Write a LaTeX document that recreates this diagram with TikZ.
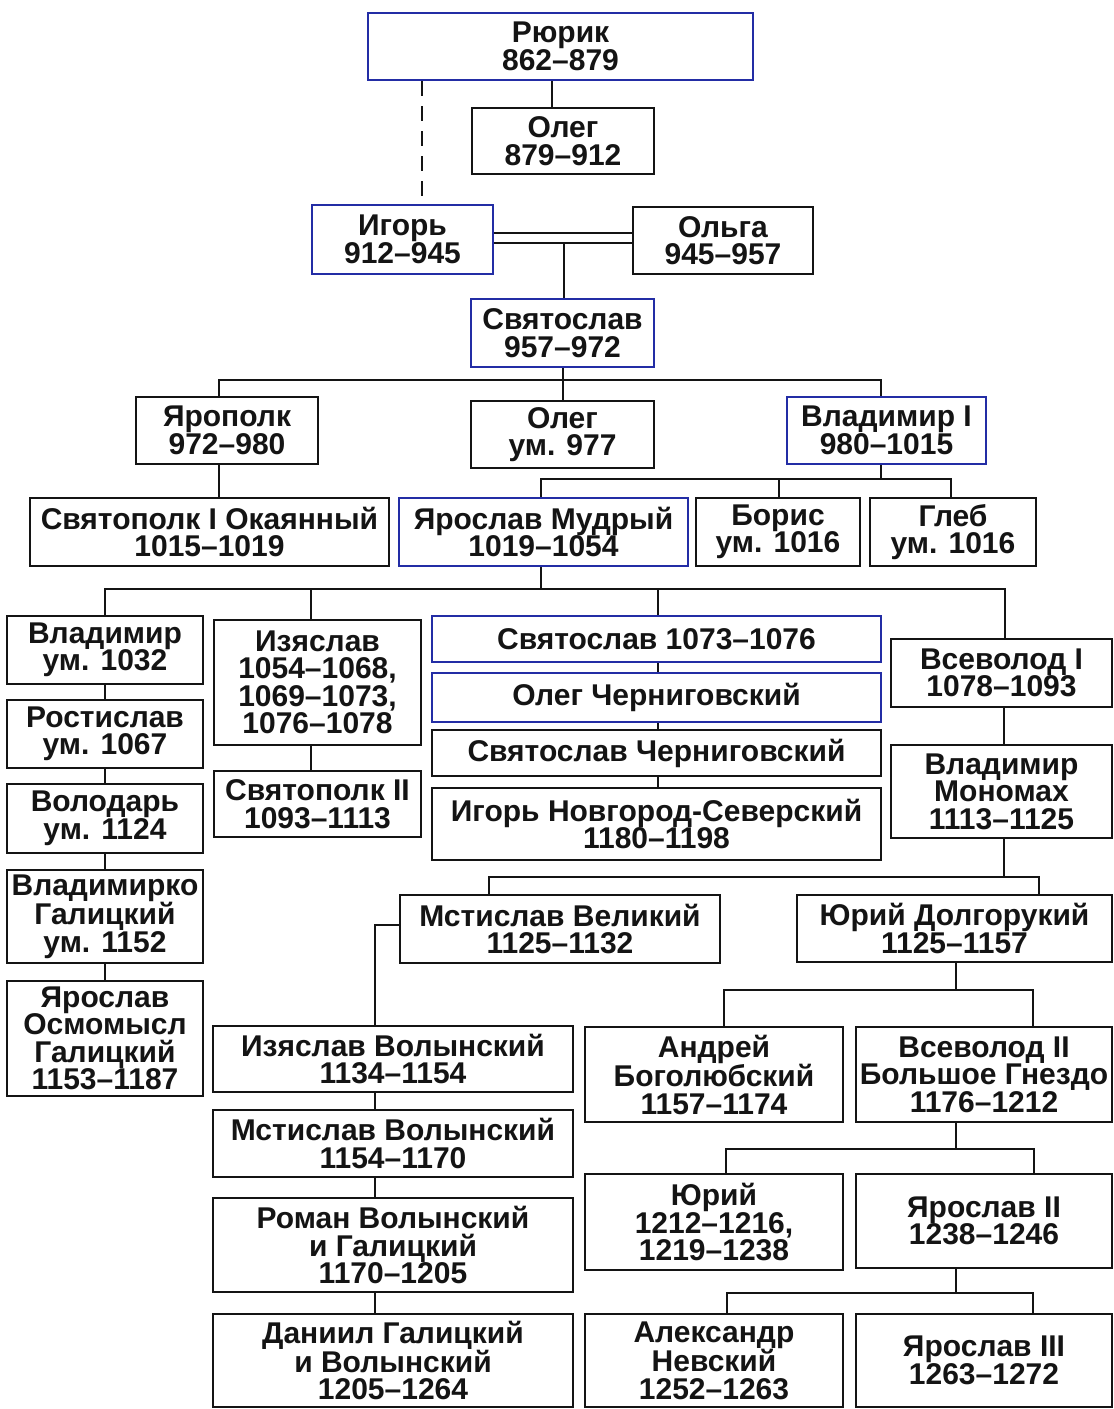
\documentclass[tikz,border=0pt]{standalone}
\usepackage{fontspec}
\setmainfont{Liberation Sans}
\definecolor{bframe}{RGB}{35,45,165}
\definecolor{ink}{RGB}{20,20,20}
\tikzset{
  box/.style={draw=ink, line width=2.3pt, inner sep=0pt, align=center,
    font=\fontsize{30}{27.5}\selectfont\bfseries, text=ink},
  bbox/.style={box, draw=bframe},
  con/.style={draw=ink, line width=2.7pt, line join=miter},
}
\newcommand\kbox[7][box]{\node[#1, minimum width={#5-#3}, minimum height={#6-#4}] (#2) at ({(#3+#5)/2},{(#4+#6)/2}) {#7};}
\begin{document}
\begin{tikzpicture}[x=1pt,y=-1pt]
\useasboundingbox (0,0) rectangle (1114,1409);
\fill[white] (0,0) rectangle (1114,1409);
% boxes
\kbox[bbox]{rurik}{368}{13}{753}{80}{Рюрик\\862–879}
\kbox{oleg1}{472}{108}{654}{174}{Олег\\879–912}
\kbox[bbox]{igor}{312}{205}{493}{274}{Игорь\\912–945}
\kbox{olga}{633}{207}{813}{274}{Ольга\\945–957}
\kbox[bbox]{svyat}{471}{299}{654}{367}{Святослав\\957–972}
\kbox{yaropolk}{136}{397}{318}{464}{Ярополк\\972–980}
\kbox{oleg2}{471}{401}{654}{468}{Олег\\ум. 977}
\kbox[bbox]{vlad1}{787}{397}{986}{464}{Владимир I\\980–1015}
\kbox{svp1}{30}{498}{389}{566}{Святополк I Окаянный\\1015–1019}
\kbox[bbox]{yaroslav}{399}{498}{688}{566}{Ярослав Мудрый\\1019–1054}
\kbox{boris}{696}{498}{860}{566}{Борис\\ум. 1016}
\kbox{gleb}{870}{498}{1036}{566}{Глеб\\ум. 1016}
% left column
\kbox{vlad1032}{7}{616}{203}{684}{Владимир\\ум. 1032}
\kbox{rostislav}{7}{700}{203}{768}{Ростислав\\ум. 1067}
\kbox{volodar}{7}{784}{203}{853}{Володарь\\ум. 1124}
\kbox{vladimirko}{7}{870}{203}{963}{Владимирко\\Галицкий\\ум. 1152}
\kbox{osmomysl}{7}{981}{203}{1096}{Ярослав\\Осмомысл\\Галицкий\\1153–1187}
\kbox{izyaslav}{214}{620}{421}{745}{Изяслав\\1054–1068,\\1069–1073,\\1076–1078}
\kbox{svp2}{214}{771}{421}{837}{Святополк II\\1093–1113}
% middle column
\kbox[bbox]{svyat1073}{432}{616}{881}{662}{Святослав 1073–1076}
\kbox[bbox]{olegch}{432}{673}{881}{722}{Олег Черниговский}
\kbox{svyatch}{432}{730}{881}{776}{Святослав Черниговский}
\kbox{igorns}{432}{788}{881}{860}{Игорь Новгород-Северский\\1180–1198}
% right column
\kbox{vsevolod1}{891}{639}{1112}{707}{Всеволод I\\1078–1093}
\kbox{monomakh}{891}{745}{1112}{838}{Владимир\\Мономах\\1113–1125}
\kbox{mstislavV}{400}{895}{720}{963}{Мстислав Великий\\1125–1132}
\kbox{yuriD}{797}{895}{1112}{962}{Юрий Долгорукий\\1125–1157}
% Volhynian line
\kbox{izyV}{213}{1026}{573}{1092}{Изяслав Волынский\\1134–1154}
\kbox{mstVol}{213}{1110}{573}{1177}{Мстислав Волынский\\1154–1170}
\kbox{roman}{213}{1198}{573}{1292}{Роман Волынский\\и Галицкий\\1170–1205}
\kbox{daniil}{213}{1314}{573}{1407}{Даниил Галицкий\\и Волынский\\1205–1264}
% Vladimir-Suzdal line
\kbox{andrei}{585}{1027}{843}{1122}{Андрей\\Боголюбский\\1157–1174}
\kbox{vsev2}{856}{1027}{1112}{1122}{Всеволод II\\Большое Гнездо\\1176–1212}
\kbox{yuri}{585}{1174}{843}{1270}{Юрий\\1212–1216,\\1219–1238}
\kbox{yar2}{856}{1174}{1112}{1268}{Ярослав II\\1238–1246}
\kbox{alex}{585}{1314}{843}{1407}{Александр\\Невский\\1252–1263}
\kbox{yar3}{856}{1314}{1112}{1407}{Ярослав III\\1263–1272}
% helper coordinates
\coordinate (xd) at (422,0);
\coordinate (xo) at (552,0);
\coordinate (ya) at (0,233);
\coordinate (yb) at (0,243);
\coordinate (xs) at (564,243);
\coordinate (b1l) at (219,380); \coordinate (b1m) at (563,380); \coordinate (b1r) at (881,380);
\coordinate (b2l) at (541,479); \coordinate (b2m) at (779,479); \coordinate (b2r) at (951,479); \coordinate (b2s) at (881,479);
\coordinate (b3l) at (105,589); \coordinate (b3a) at (311,589); \coordinate (b3s) at (541,589); \coordinate (b3b) at (658,589); \coordinate (b3r) at (1005,589);
\coordinate (xm) at (1004,0);
\coordinate (b4l) at (489,877); \coordinate (b4s) at (1004,877); \coordinate (b4r) at (1039,877);
\coordinate (b5) at (375,925);
\coordinate (b6l) at (724,990); \coordinate (b6s) at (956,990); \coordinate (b6r) at (1033,990);
\coordinate (b7l) at (726,1149); \coordinate (b7s) at (956,1149); \coordinate (b7r) at (1034,1149);
\coordinate (b8l) at (727,1293); \coordinate (b8s) at (956,1293); \coordinate (b8r) at (1033,1293);
% connectors
\draw[draw=ink, line width=2.4pt, dash pattern=on 15pt off 10pt] (rurik.south -| xd) -- (igor.north -| xd);
\draw[con] (rurik.south -| xo) -- (oleg1.north -| xo);
\draw[draw=ink, line width=2.2pt] (igor.east |- ya) -- (olga.west |- ya);
\draw[draw=ink, line width=2.2pt] (igor.east |- yb) -- (olga.west |- yb);
\draw[con] (xs) -- (svyat.north -| xs);
\draw[con] (svyat.south -| b1m) -- (oleg2.north -| b1m);
\draw[con] (yaropolk.north -| b1l) -- (b1l) -- (b1r) -- (vlad1.north -| b1r);
\draw[con] (yaropolk.south -| b1l) -- (svp1.north -| b1l);
\draw[con] (vlad1.south -| b2s) -- (b2s);
\draw[con] (yaroslav.north -| b2l) -- (b2l) -- (b2r) -- (gleb.north -| b2r);
\draw[con] (b2m) -- (boris.north -| b2m);
\draw[con] (yaroslav.south -| b3s) -- (b3s);
\draw[con] (vlad1032.north -| b3l) -- (b3l) -- (b3r) -- (vsevolod1.north -| b3r);
\draw[con] (b3a) -- (izyaslav.north -| b3a);
\draw[con] (b3b) -- (svyat1073.north -| b3b);
\draw[con] (vlad1032.south -| b3l) -- (rostislav.north -| b3l);
\draw[con] (rostislav.south -| b3l) -- (volodar.north -| b3l);
\draw[con] (volodar.south -| b3l) -- (vladimirko.north -| b3l);
\draw[con] (vladimirko.south -| b3l) -- (osmomysl.north -| b3l);
\draw[con] (izyaslav.south -| b3a) -- (svp2.north -| b3a);
\draw[con] (svyat1073.south -| b3b) -- (olegch.north -| b3b);
\draw[con] (olegch.south -| b3b) -- (svyatch.north -| b3b);
\draw[con] (svyatch.south -| b3b) -- (igorns.north -| b3b);
\draw[con] (vsevolod1.south -| xm) -- (monomakh.north -| xm);
\draw[con] (monomakh.south -| b4s) -- (b4s);
\draw[con] (mstislavV.north -| b4l) -- (b4l) -- (b4r) -- (yuriD.north -| b4r);
\draw[con] (mstislavV.west |- b5) -- (b5) -- (izyV.north -| b5);
\draw[con] (izyV.south -| b5) -- (mstVol.north -| b5);
\draw[con] (mstVol.south -| b5) -- (roman.north -| b5);
\draw[con] (roman.south -| b5) -- (daniil.north -| b5);
\draw[con] (yuriD.south -| b6s) -- (b6s);
\draw[con] (andrei.north -| b6l) -- (b6l) -- (b6r) -- (vsev2.north -| b6r);
\draw[con] (vsev2.south -| b7s) -- (b7s);
\draw[con] (yuri.north -| b7l) -- (b7l) -- (b7r) -- (yar2.north -| b7r);
\draw[con] (yar2.south -| b8s) -- (b8s);
\draw[con] (alex.north -| b8l) -- (b8l) -- (b8r) -- (yar3.north -| b8r);
\end{tikzpicture}
\end{document}
